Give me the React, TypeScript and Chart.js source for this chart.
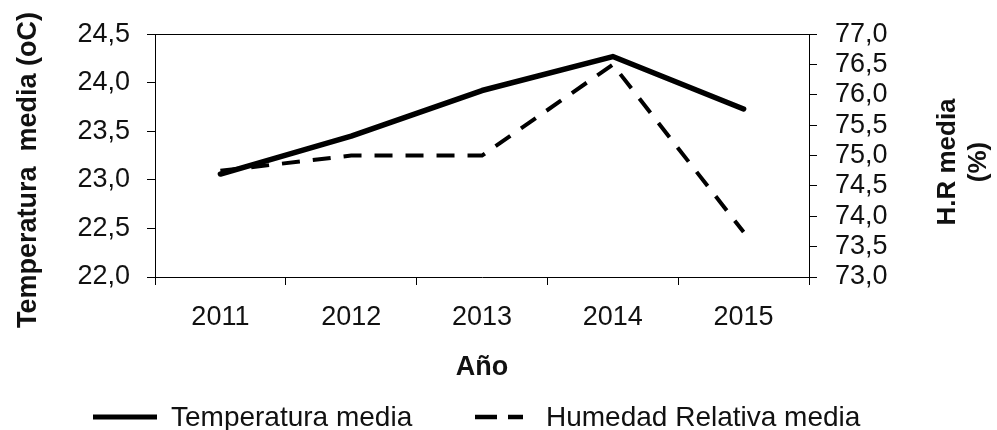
import React, { useEffect, useRef } from "react";
import { Chart, registerables } from "chart.js";

Chart.register(...registerables);

const years = ["2011", "2012", "2013", "2014", "2015"];
const temperatura = [23.06, 23.45, 23.92, 24.27, 23.73];
const humedad = [74.75, 75.0, 75.0, 76.5, 73.74];
const tempTicks = { min: 22, max: 24.5, step: 0.5 };
const humTicks = { min: 73, max: 77, step: 0.5 };
const leftTitle = "Temperatura  media (oC)";
const rightTitleLines = ["H.R media", "(%)"];
const xTitle = "Año";
const legendLabels = ["Temperatura media", "Humedad Relativa media"];

const FONT = "'Liberation Sans', Arial, sans-serif";
const TXT = "#111";

const fmt = (v: number | string) => Number(v).toFixed(1).replace(".", ",");

const decorPlugin = {
  id: "decor",
  afterDraw(chart: any) {
    const { ctx, chartArea } = chart;
    ctx.save();
    // top border of plot area
    ctx.strokeStyle = "#000";
    ctx.lineWidth = 1;
    ctx.beginPath();
    const ty = Math.round(chartArea.top) + 0.5;
    ctx.moveTo(chartArea.left, ty);
    ctx.lineTo(chartArea.right, ty);
    ctx.stroke();

    ctx.fillStyle = TXT;
    // left title
    ctx.font = `bold 27px ${FONT}`;
    ctx.textAlign = "center";
    ctx.textBaseline = "alphabetic";
    ctx.save();
    ctx.translate(36, 170);
    ctx.rotate(-Math.PI / 2);
    ctx.fillText(leftTitle, 0, 0);
    ctx.restore();

    // right title (two lines)
    ctx.font = `bold 26px ${FONT}`;
    ctx.save();
    ctx.translate(955, 162);
    ctx.rotate(-Math.PI / 2);
    ctx.fillText(rightTitleLines[0], 0, 0);
    ctx.fillText(rightTitleLines[1], 0, 31);
    ctx.restore();

    // x title
    ctx.font = `bold 27px ${FONT}`;
    ctx.fillText(xTitle, (chartArea.left + chartArea.right) / 2, 375);

    // legend
    ctx.strokeStyle = "#000";
    ctx.lineWidth = 5;
    ctx.lineCap = "butt";
    ctx.beginPath();
    ctx.moveTo(93, 417);
    ctx.lineTo(157, 417);
    ctx.stroke();
    ctx.lineWidth = 4.5;
    ctx.setLineDash([22, 11]);
    ctx.beginPath();
    ctx.moveTo(475, 417);
    ctx.lineTo(523, 417);
    ctx.stroke();
    ctx.setLineDash([]);
    ctx.font = `28px ${FONT}`;
    ctx.textAlign = "left";
    ctx.fillText(legendLabels[0], 171, 426);
    ctx.fillText(legendLabels[1], 546, 426);
    ctx.restore();
  },
};

export default function App() {
  const ref = useRef<HTMLCanvasElement>(null);

  useEffect(() => {
    if (!ref.current) return;
    const tickFont = { family: FONT, size: 27 };
    const chart = new Chart(ref.current, {
      type: "line",
      data: {
        labels: years,
        datasets: [
          {
            label: legendLabels[0],
            data: temperatura,
            yAxisID: "y",
            borderColor: "#000",
            borderWidth: 5.5,
            borderCapStyle: "round",
            borderJoinStyle: "round",
            pointRadius: 0,
            tension: 0,
            fill: false,
          },
          {
            label: legendLabels[1],
            data: humedad,
            yAxisID: "y1",
            borderColor: "#000",
            borderWidth: 4,
            borderDash: [18, 13],
            borderCapStyle: "butt",
            borderJoinStyle: "miter",
            pointRadius: 0,
            tension: 0,
            fill: false,
          },
        ],
      },
      options: {
        animation: false,
        responsive: false,
        devicePixelRatio: 1,
        layout: { padding: { top: 24, left: 0, right: 0, bottom: 0 } },
        plugins: {
          legend: { display: false },
          tooltip: { enabled: false },
          title: { display: false },
        },
        scales: {
          x: {
            type: "category",
            offset: true,
            grid: {
              offset: true,
              drawOnChartArea: false,
              drawTicks: true,
              tickLength: 8,
              color: "#000",
            },
            border: { color: "#000", width: 1 },
            ticks: {
              font: tickFont,
              color: TXT,
              padding: 16,
              maxRotation: 0,
              autoSkip: false,
            },
            afterFit: (s: any) => {
              s.height = 153;
            },
          },
          y: {
            type: "linear",
            position: "left",
            min: tempTicks.min,
            max: tempTicks.max,
            grid: {
              drawOnChartArea: false,
              drawTicks: true,
              tickLength: 8,
              color: "#000",
            },
            border: { color: "#000", width: 1 },
            ticks: {
              stepSize: tempTicks.step,
              autoSkip: false,
              font: tickFont,
              color: TXT,
              padding: 17,
              callback: (v: any) => fmt(v),
            },
            afterFit: (s: any) => {
              s.width = 155;
            },
          },
          y1: {
            type: "linear",
            position: "right",
            min: humTicks.min,
            max: humTicks.max,
            grid: {
              drawOnChartArea: false,
              drawTicks: true,
              tickLength: 8,
              color: "#000",
            },
            border: { color: "#000", width: 1 },
            ticks: {
              stepSize: humTicks.step,
              autoSkip: false,
              font: tickFont,
              color: TXT,
              padding: 18,
              callback: (v: any) => fmt(v),
            },
            afterFit: (s: any) => {
              s.width = 188;
            },
          },
        },
      },
      plugins: [decorPlugin],
    });
    return () => chart.destroy();
  }, []);

  return (
    <div style={{ position: "fixed", left: 0, top: 0, width: 997, height: 430, background: "#fff" }}>
      <canvas ref={ref} width={997} height={430} style={{ display: "block" }} />
    </div>
  );
}
